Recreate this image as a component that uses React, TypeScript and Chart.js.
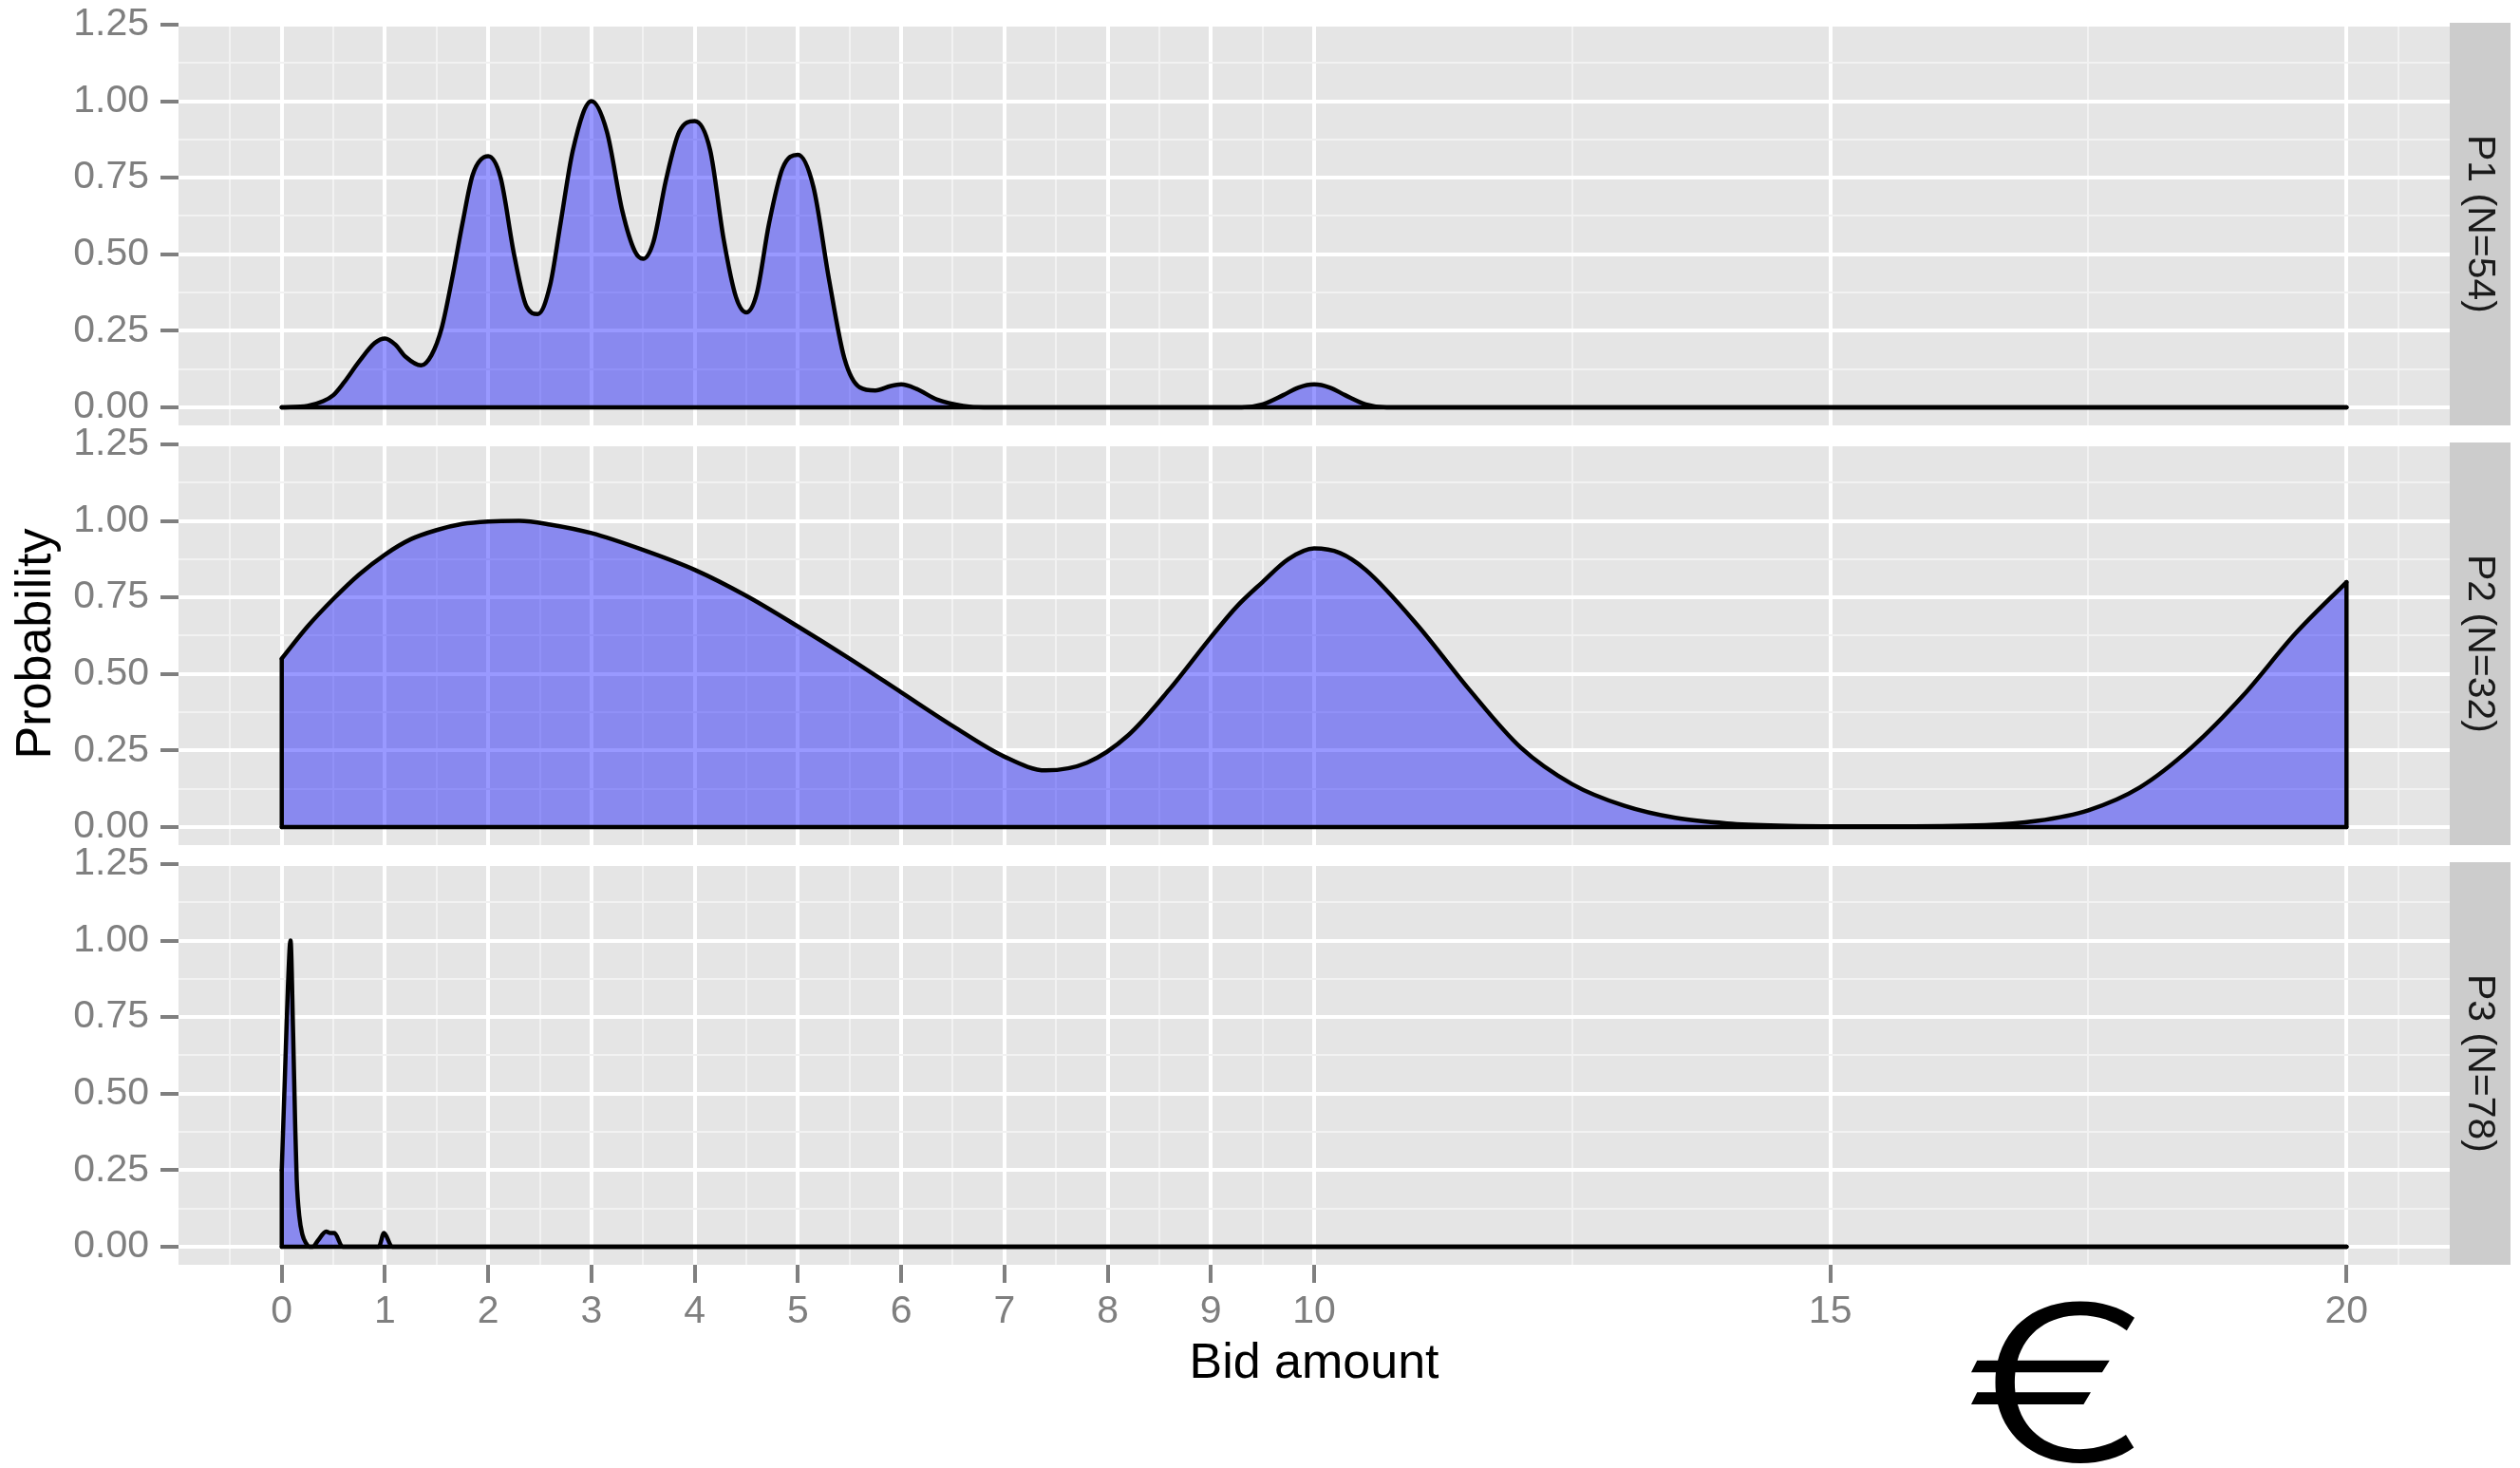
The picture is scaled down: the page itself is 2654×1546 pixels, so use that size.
import React, { useEffect, useRef } from 'react';
import { Chart, registerables } from 'chart.js';

Chart.register(...registerables);

// ---------- data ----------
const xMajorTicks = [0, 1, 2, 3, 4, 5, 6, 7, 8, 9, 10, 15, 20];
const xMinorTicks = [-0.5, 0.5, 1.5, 2.5, 3.5, 4.5, 5.5, 6.5, 7.5, 8.5, 9.5, 12.5, 17.5, 20.5];
const yMajorTicks = [0, 0.25, 0.5, 0.75, 1, 1.25];
const yMinorTicks = [0.125, 0.375, 0.625, 0.875, 1.125];

const panelLabels = ['P1 (N=54)', 'P2 (N=32)', 'P3 (N=78)'];
const xTitle = 'Bid amount';
const yTitle = 'Probability';
const currencySymbol = '€';

const p1X = [0, 0.25, 0.4, 0.5, 0.6, 0.75, 0.9, 1.0, 1.1, 1.2, 1.35, 1.45, 1.55, 1.65, 1.75, 1.85, 2.0, 2.12, 2.25, 2.37, 2.48, 2.6, 2.7, 2.82, 3.0, 3.15, 3.3, 3.42, 3.5, 3.6, 3.72, 3.85, 4.0, 4.15, 4.28, 4.4, 4.5, 4.6, 4.72, 4.85, 5.0, 5.15, 5.3, 5.45, 5.6, 5.75, 5.9, 6.0, 6.15, 6.35, 6.6, 6.8, 9.3, 9.5, 9.7, 9.85, 10.0, 10.15, 10.3, 10.5, 10.7, 20];
const p1Y = [0, 0.005, 0.02, 0.04, 0.08, 0.15, 0.21, 0.225, 0.205, 0.165, 0.137, 0.17, 0.26, 0.42, 0.6, 0.76, 0.82, 0.75, 0.5, 0.33, 0.305, 0.4, 0.6, 0.84, 1.0, 0.9, 0.64, 0.51, 0.485, 0.54, 0.74, 0.9, 0.935, 0.84, 0.55, 0.36, 0.31, 0.37, 0.6, 0.78, 0.825, 0.72, 0.42, 0.16, 0.065, 0.055, 0.07, 0.075, 0.06, 0.025, 0.005, 0, 0, 0.01, 0.04, 0.065, 0.075, 0.065, 0.04, 0.01, 0, 0];

const p2X = [0, 0.25, 0.5, 0.75, 1, 1.25, 1.5, 1.75, 2, 2.3, 2.6, 3, 3.5, 4, 4.5, 5, 5.5, 6, 6.5, 7, 7.4, 7.8, 8.2, 8.6, 9, 9.25, 9.5, 9.75, 10, 10.25, 10.5, 11, 11.5, 12, 12.5, 13, 13.5, 14, 14.5, 15.5, 16.5, 17, 17.5, 18, 18.5, 19, 19.5, 20];
const p2Y = [0.55, 0.655, 0.745, 0.825, 0.89, 0.94, 0.97, 0.99, 0.998, 1.0, 0.988, 0.96, 0.905, 0.84, 0.755, 0.655, 0.55, 0.44, 0.33, 0.23, 0.185, 0.21, 0.3, 0.45, 0.62, 0.72, 0.8, 0.875, 0.91, 0.895, 0.84, 0.66, 0.45, 0.26, 0.14, 0.07, 0.03, 0.012, 0.005, 0.002, 0.006, 0.02, 0.055, 0.13, 0.26, 0.43, 0.63, 0.8];

const p3X = [0, 0.03, 0.06, 0.085, 0.11, 0.13, 0.145, 0.17, 0.2, 0.235, 0.27, 0.3, 0.35, 0.43, 0.47, 0.51, 0.59, 0.62, 0.94, 0.99, 1.07, 1.1, 20];
const p3Y = [0.25, 0.55, 0.85, 1.0, 0.7, 0.4, 0.22, 0.1, 0.04, 0.012, 0, 0, 0.02, 0.05, 0.045, 0.045, 0, 0, 0, 0.045, 0, 0, 0];

const seriesX = [p1X, p2X, p3X];
const seriesY = [p1Y, p2Y, p3Y];

// ---------- layout ----------
const W = 2654;
const H = 1546;
const PANEL_LEFT = 188;
const PANEL_RIGHT = 2580;
const STRIP_W = 64;
const PANEL_TOPS = [24, 466, 908];
const PANEL_H = 424;
const PAD_T = 44;
const LINE_W = 4.5;
const FONT = '"Liberation Sans", Arial, Helvetica, sans-serif';
const EURO_FONT = '300 200px Inter, "Liberation Sans", sans-serif';
const CANVAS_TOPS = PANEL_TOPS.map((t) => t - PAD_T);

const isIn = (arr: number[], v: any) => typeof v === 'number' && arr.some((a) => Math.abs(a - v) < 1e-9);

const decorPlugin = {
  id: 'decor',
  beforeDraw(chart: any) {
    const { ctx, chartArea } = chart;
    const { left, top, right, bottom } = chartArea;
    ctx.save();
    ctx.fillStyle = '#e5e5e5';
    ctx.fillRect(left, top, right - left, bottom - top);
    ctx.fillStyle = '#cccccc';
    ctx.fillRect(right, top, STRIP_W, bottom - top);
    ctx.restore();
  },
  afterDraw(chart: any, _a: any, opts: any) {
    const { ctx, chartArea } = chart;
    const { left, top, right, bottom } = chartArea;
    const cy = (top + bottom) / 2;
    ctx.save();
    ctx.translate(right + 20, cy);
    ctx.rotate(Math.PI / 2);
    ctx.font = `41px ${FONT}`;
    ctx.fillStyle = '#1a1a1a';
    ctx.textAlign = 'center';
    ctx.textBaseline = 'alphabetic';
    ctx.fillText(opts.strip, 0, 0);
    ctx.restore();

    if (opts.ylab) {
      ctx.save();
      ctx.translate(53, cy);
      ctx.rotate(-Math.PI / 2);
      ctx.font = `52px ${FONT}`;
      ctx.fillStyle = '#000000';
      ctx.textAlign = 'center';
      ctx.textBaseline = 'alphabetic';
      ctx.fillText(yTitle, 0, 0);
      ctx.restore();
    }
    if (opts.xlab) {
      ctx.save();
      ctx.font = `52px ${FONT}`;
      ctx.fillStyle = '#000000';
      ctx.textAlign = 'center';
      ctx.textBaseline = 'alphabetic';
      ctx.fillText(xTitle, (left + right) / 2, bottom + 119);
      ctx.restore();

      // big euro sign, fitted into its box
      ctx.save();
      ctx.font = EURO_FONT;
      ctx.fillStyle = '#000000';
      ctx.textAlign = 'left';
      ctx.textBaseline = 'alphabetic';
      const m = ctx.measureText(currencySymbol);
      const bw = m.actualBoundingBoxLeft + m.actualBoundingBoxRight;
      const bh = m.actualBoundingBoxAscent + m.actualBoundingBoxDescent;
      const cTop = CANVAS_TOPS[2];
      const tx0 = 2075, tx1 = 2248;
      const ty0 = 1371 - cTop, ty1 = 1541 - cTop;
      ctx.translate(tx0, ty0);
      ctx.scale((tx1 - tx0) / bw, (ty1 - ty0) / bh);
      ctx.fillText(currencySymbol, m.actualBoundingBoxLeft, m.actualBoundingBoxAscent);
      ctx.restore();
    }
  },
};

function makeConfig(i: number): any {
  const xs = seriesX[i];
  const ys = seriesY[i];
  const last = xs.length - 1;
  const showX = i === 2;
  const lineBase = {
    borderColor: '#000000',
    borderWidth: LINE_W,
    pointRadius: 0,
    fill: false,
    tension: 0,
    borderCapStyle: 'round',
    borderJoinStyle: 'round',
  };
  const datasets: any[] = [
    { ...lineBase, data: [{ x: xs[0], y: 0 }, { x: xs[last], y: 0 }] },
    { ...lineBase, data: [{ x: xs[0], y: 0 }, { x: xs[0], y: ys[0] }] },
    { ...lineBase, data: [{ x: xs[last], y: 0 }, { x: xs[last], y: ys[last] }] },
    {
      data: xs.map((x, k) => ({ x, y: ys[k] })),
      borderColor: '#000000',
      borderWidth: LINE_W,
      pointRadius: 0,
      fill: 'origin',
      backgroundColor: 'rgba(0,0,255,0.4)',
      cubicInterpolationMode: 'monotone',
      borderJoinStyle: 'round',
      borderCapStyle: 'round',
    },
  ];
  const xAll = [...xMajorTicks, ...xMinorTicks].sort((a, b) => a - b);
  const yAll = [...yMajorTicks, ...yMinorTicks].sort((a, b) => a - b);
  return {
    type: 'line',
    data: { datasets },
    plugins: [decorPlugin],
    options: {
      animation: false,
      responsive: false,
      devicePixelRatio: 1,
      events: [],
      layout: {
        autoPadding: false,
        padding: { left: 0, top: PAD_T, right: W - PANEL_RIGHT, bottom: showX ? 0 : PAD_T },
      },
      plugins: {
        legend: { display: false },
        tooltip: { enabled: false },
        decor: { strip: panelLabels[i], ylab: i === 1, xlab: showX },
      },
      scales: {
        x: {
          type: 'linear',
          min: -1,
          max: 21,
          bounds: 'data',
          afterBuildTicks: (s: any) => {
            s.ticks = xAll.map((v) => ({ value: v }));
          },
          afterFit: (s: any) => {
            s.height = showX ? H - (PANEL_TOPS[2] + PANEL_H) : 0;
          },
          border: { display: false },
          grid: {
            color: (c: any) => (isIn(xMajorTicks, c.tick?.value) ? '#ffffff' : '#f2f2f2'),
            lineWidth: (c: any) => (isIn(xMajorTicks, c.tick?.value) ? 4 : 2),
            drawTicks: showX,
            tickLength: 19,
            tickWidth: 4,
            tickColor: (c: any) => (isIn(xMajorTicks, c.tick?.value) ? '#7f7f7f' : 'rgba(0,0,0,0)'),
          },
          ticks: {
            display: showX,
            autoSkip: false,
            maxRotation: 0,
            minRotation: 0,
            padding: 6,
            color: '#7f7f7f',
            font: { size: 41, family: FONT },
            callback: (v: any) => (isIn(xMajorTicks, v) ? String(v) : ''),
          },
        },
        y: {
          type: 'linear',
          min: -0.0589,
          max: 1.256,
          bounds: 'data',
          afterBuildTicks: (s: any) => {
            s.ticks = yAll.map((v) => ({ value: v }));
          },
          afterFit: (s: any) => {
            s.width = PANEL_LEFT;
          },
          border: { display: false },
          grid: {
            color: (c: any) => (isIn(yMajorTicks, c.tick?.value) ? '#ffffff' : '#f2f2f2'),
            lineWidth: (c: any) => (isIn(yMajorTicks, c.tick?.value) ? 4 : 2),
            drawTicks: true,
            tickLength: 19,
            tickWidth: 4,
            tickColor: (c: any) => (isIn(yMajorTicks, c.tick?.value) ? '#7f7f7f' : 'rgba(0,0,0,0)'),
          },
          ticks: {
            autoSkip: false,
            padding: 12,
            color: '#7f7f7f',
            font: { size: 41, family: FONT },
            callback: (v: any) => (isIn(yMajorTicks, v) ? Number(v).toFixed(2) : ''),
          },
        },
      },
    },
  };
}

export default function App() {
  const r0 = useRef<HTMLCanvasElement>(null);
  const r1 = useRef<HTMLCanvasElement>(null);
  const r2 = useRef<HTMLCanvasElement>(null);

  useEffect(() => {
    Chart.defaults.font.family = FONT;
    const refs = [r0, r1, r2];
    const charts = refs.map((r, i) => new Chart(r.current as HTMLCanvasElement, makeConfig(i)));
    return () => charts.forEach((c) => c.destroy());
  }, []);

  const canvasH = [PAD_T + PANEL_H + PAD_T, PAD_T + PANEL_H + PAD_T, H - CANVAS_TOPS[2]];
  return (
    <div style={{ position: 'absolute', left: 0, top: 0, width: W, height: H, background: '#ffffff', overflow: 'hidden' }}>
      {[r0, r1, r2].map((r, i) => (
        <canvas
          key={i}
          ref={r}
          width={W}
          height={canvasH[i]}
          style={{ position: 'absolute', left: 0, top: CANVAS_TOPS[i], width: W, height: canvasH[i] }}
        />
      ))}
    </div>
  );
}
